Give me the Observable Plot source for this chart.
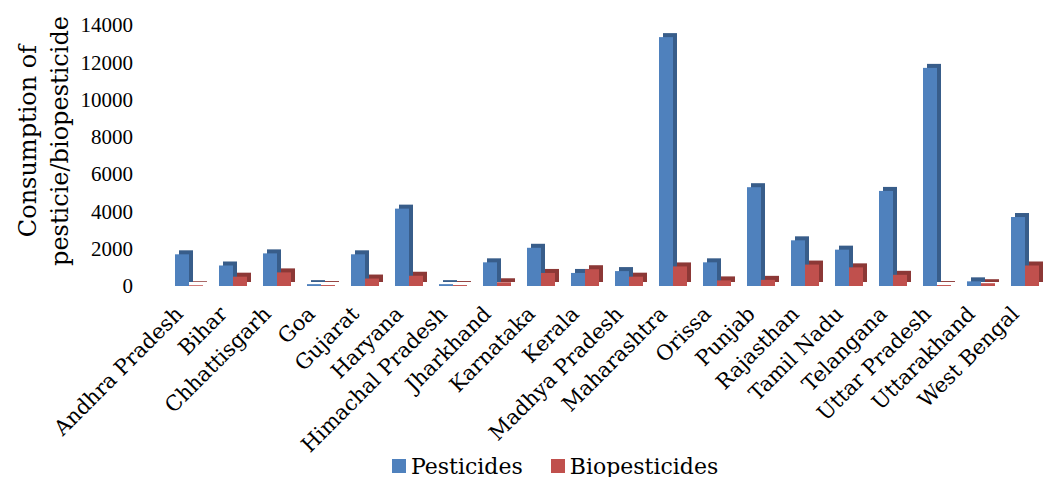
<!DOCTYPE html>
<html>
<head>
<meta charset="utf-8">
<script src="https://cdn.jsdelivr.net/npm/d3@7"></script>
<script src="https://cdn.jsdelivr.net/npm/@observablehq/plot@0.6"></script>
<style>
  html, body { margin: 0; padding: 0; background: #fff; }
  #wrap { width: 1064px; height: 477px; overflow: hidden; position: relative; }
  #legend { display: flex; align-items: center; padding-left: 392px; margin-top: -7px; height: 22px; font-family: "DejaVu Serif", serif; font-size: 22px; color: #000; position: relative; }
  .item { display: flex; align-items: center; margin-right: 28px; }
  .sw { width: 14px; height: 14px; margin-right: 5px; }
</style>
</head>
<body>
<div id="wrap"><div id="chart"></div><div id="legend"></div></div>
<script>
const states = ["Andhra Pradesh","Bihar","Chhattisgarh","Goa","Gujarat","Haryana","Himachal Pradesh","Jharkhand","Karnataka","Kerala","Madhya Pradesh","Maharashtra","Orissa","Punjab","Rajasthan","Tamil Nadu","Telangana","Uttar Pradesh","Uttarakhand","West Bengal"];
const pesticides = [1700,1100,1750,100,1700,4150,100,1270,2050,700,800,13350,1270,5300,2450,1950,5100,11700,250,3700];
const biopesticides = [40,500,730,50,400,550,50,200,700,900,500,1050,300,330,1150,1000,600,50,150,1100];
const yTicks = [0,2000,4000,6000,8000,10000,12000,14000];
const seriesNames = ["Pesticides","Biopesticides"];
const seriesColors = ["#4F81BD","#C0504D"];
const sideColors = ["#385D8A","#8C3836"];
const yTitle = "Consumption of\npesticie/biopesticide";

const pest = states.map((s,i) => ({state: s, value: pesticides[i]}));
const bio = states.map((s,i) => ({state: s, value: biopesticides[i]}));

const W = 1064, H = 462;
const chart = Plot.plot({
  width: W, height: H,
  marginLeft: 158.6, marginRight: 8.6, marginTop: 25, marginBottom: H - 286,
  style: {background: "transparent", color: "#000"},
  x: {domain: states, paddingInner: 0.375, paddingOuter: 0.1875},
  y: {domain: [0, 14000]},
  marks: [
    Plot.axisY({ticks: yTicks, tickSize: 0, tickPadding: 26, fontSize: 21, fontFamily: "Liberation Serif", label: null, tickFormat: d => String(d)}),
    Plot.axisX({tickSize: 0, tickPadding: 12, tickRotate: -45, fontSize: 21, fontFamily: "DejaVu Serif", label: null, dx: -10, dy: 12}),
    Plot.text([yTitle], {frameAnchor: "left", textAnchor: "middle", lineAnchor: "middle", rotate: -90, dx: -117, dy: -15, fontSize: 24, fontFamily: "DejaVu Serif", lineHeight: 1.3, fill: "#000"}),
    Plot.barY(pest, {x: "state", y: "value", insetRight: 14, fill: sideColors[0], dx: 4, dy: -4}),
    Plot.barY(pest, {x: "state", y: "value", insetRight: 14, fill: seriesColors[0]}),
    Plot.barY(bio, {x: "state", y: "value", insetLeft: 14, fill: sideColors[1], dx: 4, dy: -4}),
    Plot.barY(bio, {x: "state", y: "value", insetLeft: 14, fill: seriesColors[1]})
  ]
});
document.getElementById("chart").appendChild(chart);

const legend = document.getElementById("legend");
seriesNames.forEach((n, i) => {
  const it = document.createElement("div");
  it.className = "item";
  const sw = document.createElement("div");
  sw.className = "sw";
  sw.style.background = seriesColors[i];
  const t = document.createElement("span");
  t.textContent = n;
  it.appendChild(sw); it.appendChild(t);
  legend.appendChild(it);
});
</script>
</body>
</html>
